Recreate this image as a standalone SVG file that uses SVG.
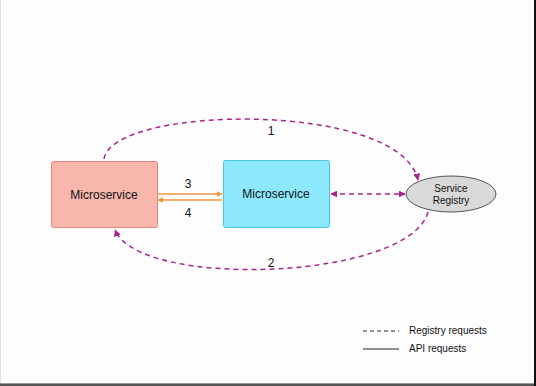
<svg xmlns="http://www.w3.org/2000/svg" width="536" height="386" viewBox="0 0 536 386">
  <style>
    .lbl { font-family: "Liberation Sans", Arial, sans-serif; fill: #111; }
    .reg { fill: none; stroke: #a8238c; stroke-width: 1.5; stroke-dasharray: 5 4; }
    .api { fill: none; stroke: #f0963a; stroke-width: 1.5; }
  </style>
  <defs>
    <marker id="mReg" viewBox="0 0 10 10" refX="9" refY="5" markerWidth="7" markerHeight="7" orient="auto-start-reverse" markerUnits="userSpaceOnUse">
      <path d="M0,0 L10,5 L0,10 z" fill="#a8238c"/>
    </marker>
    <marker id="mApi" viewBox="0 0 10 10" refX="9" refY="5" markerWidth="6" markerHeight="6" orient="auto-start-reverse" markerUnits="userSpaceOnUse">
      <path d="M0,0 L10,5 L0,10 z" fill="#f0963a"/>
    </marker>
  </defs>

  <!-- page background and frame -->
  <rect x="0" y="0" width="536" height="386" fill="#fdfdfd"/>
  <line x1="0.5" y1="0" x2="0.5" y2="386" stroke="#e0e0e0" stroke-width="1"/>
  <line x1="0" y1="383.5" x2="536" y2="383.5" stroke="#9a9a9a" stroke-width="1"/>
  <line x1="0" y1="385" x2="536" y2="385" stroke="#555" stroke-width="2"/>
  <line x1="535" y1="0" x2="535" y2="386" stroke="#111" stroke-width="2"/>

  <!-- connectors -->
  <g id="connectors">
    <path class="reg" d="M104,159 C112,105 400,100 418,180" marker-end="url(#mReg)"/>
    <path class="reg" d="M428,212 C410,280 140,290 115,230" marker-end="url(#mReg)"/>
    <line class="reg" x1="331" y1="194" x2="405" y2="194" marker-start="url(#mReg)" marker-end="url(#mReg)"/>
    <line class="api" x1="158" y1="194" x2="222" y2="194" marker-end="url(#mApi)"/>
    <line class="api" x1="222" y1="200" x2="158" y2="200" marker-end="url(#mApi)"/>
    <text class="lbl" x="271" y="135" font-size="12" text-anchor="middle">1</text>
    <text class="lbl" x="271" y="267" font-size="12" text-anchor="middle">2</text>
    <text class="lbl" x="188" y="188" font-size="12" text-anchor="middle">3</text>
    <text class="lbl" x="188" y="217" font-size="12" text-anchor="middle">4</text>
  </g>

  <g id="microservice-a">
    <rect x="51.5" y="161.5" width="106" height="66" rx="2" fill="#f8b6ad" stroke="#e8837a"/>
    <text class="lbl" x="104" y="199" font-size="12" text-anchor="middle">Microservice</text>
  </g>

  <g id="microservice-b">
    <rect x="223.5" y="160.5" width="106" height="67" rx="2" fill="#8ce8fd" stroke="#4cc4e4"/>
    <text class="lbl" x="276" y="198" font-size="12" text-anchor="middle">Microservice</text>
  </g>

  <g id="service-registry">
    <ellipse cx="451" cy="194" rx="45" ry="18" fill="#d9d9d9" stroke="#555"/>
    <text class="lbl" x="451" y="192" font-size="10" text-anchor="middle">Service</text>
    <text class="lbl" x="451" y="204" font-size="10" text-anchor="middle">Registry</text>
  </g>

  <g id="legend">
    <line x1="363" y1="331" x2="399" y2="331" stroke="#222" stroke-width="1" stroke-dasharray="4 3"/>
    <text class="lbl" x="409" y="334" font-size="10">Registry requests</text>
    <line x1="363" y1="349" x2="399" y2="349" stroke="#222" stroke-width="1"/>
    <text class="lbl" x="409" y="352" font-size="10">API requests</text>
  </g>
</svg>
